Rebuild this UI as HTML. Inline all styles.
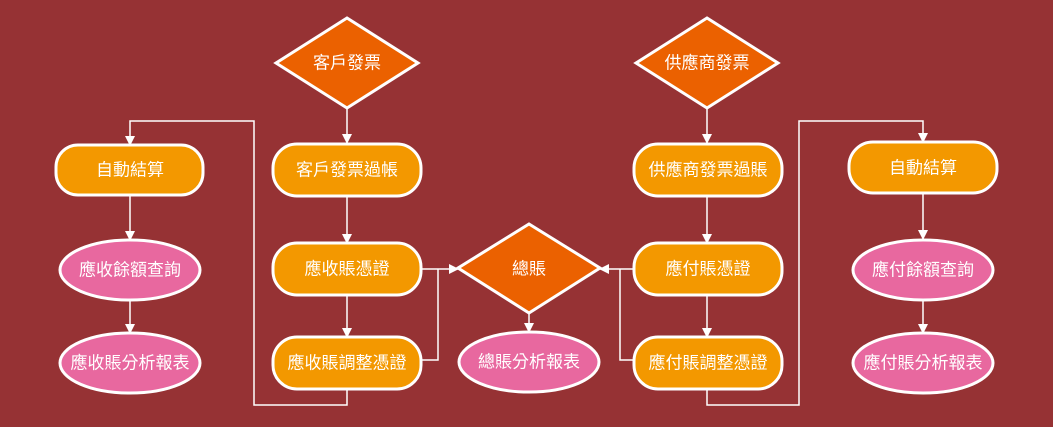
<!DOCTYPE html>
<html><head><meta charset="utf-8"><style>
html,body{margin:0;padding:0;background:#963234;}
svg{display:block;}
text{font-family:"Liberation Sans","Noto Sans CJK TC",sans-serif;font-size:17px;fill:#fff;text-anchor:middle;dominant-baseline:central;}
</style></head><body>
<svg width="1053" height="427" viewBox="0 0 1053 427" xmlns="http://www.w3.org/2000/svg">
<defs><marker id="a" markerWidth="10" markerHeight="10" refX="9" refY="5" orient="auto" markerUnits="userSpaceOnUse"><path d="M0,0 L10,5 L0,10 z" fill="#fff"/></marker></defs>
<rect width="1053" height="427" fill="#963234"/>
<g stroke="#fff" stroke-width="1.5" fill="none">
<path d="M347,108 V143" marker-end="url(#a)"/>
<path d="M347,196 V243" marker-end="url(#a)"/>
<path d="M347,295 V337" marker-end="url(#a)"/>
<path d="M421,269 H458" marker-end="url(#a)"/>
<path d="M421,360 H438 V269"/>
<path d="M347,389 V405 H254 V121 H130 V145" marker-end="url(#a)"/>
<path d="M130,195 V240" marker-end="url(#a)"/>
<path d="M130,300 V333" marker-end="url(#a)"/>
<path d="M529,313 V332" marker-end="url(#a)"/>
<path d="M707,108 V143" marker-end="url(#a)"/>
<path d="M707,196 V243" marker-end="url(#a)"/>
<path d="M707,295 V337" marker-end="url(#a)"/>
<path d="M634,269 H600" marker-end="url(#a)"/>
<path d="M634,360 H620 V269"/>
<path d="M707,389 V405 H799 V121 H923 V142" marker-end="url(#a)"/>
<path d="M923,193 V239" marker-end="url(#a)"/>
<path d="M923,300 V333" marker-end="url(#a)"/>
</g>
<g stroke="#fff" stroke-width="3">
<polygon points="347,18 418,63 347,108 276,63" fill="#EB6100"/>
<polygon points="707,18 778,63 707,108 636,63" fill="#EB6100"/>
<polygon points="529,224 600,268 529,313 458,268" fill="#EB6100"/>
<rect x="56" y="145" width="147" height="50" rx="22" fill="#F39800"/>
<rect x="273" y="144" width="148" height="52" rx="24" fill="#F39800"/>
<rect x="273" y="243" width="148" height="52" rx="24" fill="#F39800"/>
<rect x="273" y="337" width="148" height="52" rx="24" fill="#F39800"/>
<rect x="634" y="144" width="148" height="52" rx="24" fill="#F39800"/>
<rect x="634" y="243" width="148" height="52" rx="24" fill="#F39800"/>
<rect x="634" y="337" width="148" height="52" rx="24" fill="#F39800"/>
<rect x="849" y="142" width="148" height="51" rx="24" fill="#F39800"/>
<ellipse cx="130" cy="270" rx="70" ry="30" fill="#E8689F"/>
<ellipse cx="130" cy="363" rx="70" ry="30" fill="#E8689F"/>
<ellipse cx="529" cy="362" rx="70" ry="30" fill="#E8689F"/>
<ellipse cx="923" cy="270" rx="70" ry="30" fill="#E8689F"/>
<ellipse cx="923" cy="363" rx="70" ry="30" fill="#E8689F"/>
</g>
<text x="347" y="63">客戶發票</text>
<text x="707" y="63">供應商發票</text>
<text x="529" y="269">總賬</text>
<text x="130" y="170">自動結算</text>
<text x="347" y="170">客戶發票過帳</text>
<text x="347" y="269">應收賬憑證</text>
<text x="347" y="363">應收賬調整憑證</text>
<text x="708" y="170">供應商發票過賬</text>
<text x="708" y="269">應付賬憑證</text>
<text x="708" y="363">應付賬調整憑證</text>
<text x="923" y="168">自動結算</text>
<text x="130" y="270">應收餘額查詢</text>
<text x="130" y="363">應收賬分析報表</text>
<text x="529" y="362">總賬分析報表</text>
<text x="923" y="270">應付餘額查詢</text>
<text x="923" y="363">應付賬分析報表</text>
</svg>
</body></html>
